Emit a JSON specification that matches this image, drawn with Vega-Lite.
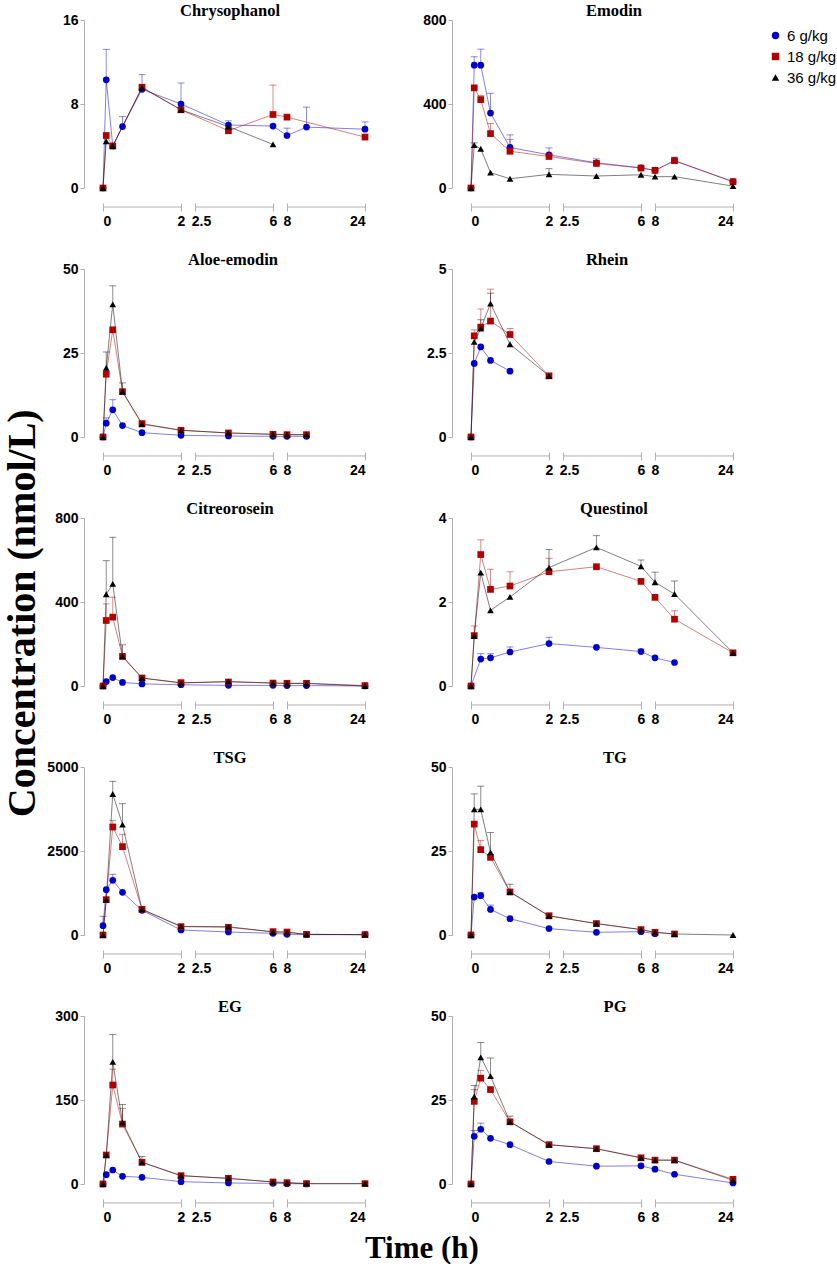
{
  "$schema": "https://vega.github.io/schema/vega-lite/v6.json",
  "background": "white",
  "padding": {"left": 2, "top": 2, "right": 0, "bottom": 0},
  "config": {
    "view": {"stroke": null},
    "font": "Liberation Sans",
    "axis": {"labelFont": "Liberation Sans", "labelFontWeight": "bold", "labelFontSize": 14, "labelColor": "#000000", "domainColor": "#b0b0b0", "tickColor": "#b0b0b0", "grid": false},
    "axisX": {"offset": 15, "domain": false, "tickSize": 8, "labelPadding": 3, "labelAngle": 0, "format": ".2~f"},
    "axisY": {"offset": 19, "tickSize": 4, "labelPadding": 2, "format": ".2~f"},
    "title": {"font": "Liberation Serif", "fontWeight": "bold", "fontSize": 16.5, "color": "#000000", "offset": -6},
    "legend": {"orient": "right", "offset": 23, "padding": 8, "labelFont": "Liberation Sans", "labelFontSize": 15, "labelFontWeight": "normal", "labelColor": "#000000", "symbolSize": 55, "symbolOpacity": 1, "symbolStrokeWidth": 0, "rowPadding": 5, "labelOffset": 4}
  },
  "datasets": {
    "pk": [
      {"c": "Chrysophanol", "d": "6 g/kg", "t": 0, "v": 0},
      {"c": "Chrysophanol", "d": "6 g/kg", "t": 0.083, "v": 10.3, "u": 13.2},
      {"c": "Chrysophanol", "d": "6 g/kg", "t": 0.25, "v": 4.0},
      {"c": "Chrysophanol", "d": "6 g/kg", "t": 0.5, "v": 5.85, "u": 6.8},
      {"c": "Chrysophanol", "d": "6 g/kg", "t": 1, "v": 9.4, "u": 10.8},
      {"c": "Chrysophanol", "d": "6 g/kg", "t": 2, "v": 8.0, "u": 10.0},
      {"c": "Chrysophanol", "d": "6 g/kg", "t": 4, "v": 6.0, "u": 6.4},
      {"c": "Chrysophanol", "d": "6 g/kg", "t": 6, "v": 5.9},
      {"c": "Chrysophanol", "d": "6 g/kg", "t": 8, "v": 5.0, "u": 5.7},
      {"c": "Chrysophanol", "d": "6 g/kg", "t": 12, "v": 5.8, "u": 7.7},
      {"c": "Chrysophanol", "d": "6 g/kg", "t": 24, "v": 5.6, "u": 6.3},
      {"c": "Chrysophanol", "d": "18 g/kg", "t": 0, "v": 0},
      {"c": "Chrysophanol", "d": "18 g/kg", "t": 0.083, "v": 5.0},
      {"c": "Chrysophanol", "d": "18 g/kg", "t": 0.25, "v": 4.0},
      {"c": "Chrysophanol", "d": "18 g/kg", "t": 1, "v": 9.6},
      {"c": "Chrysophanol", "d": "18 g/kg", "t": 2, "v": 7.45},
      {"c": "Chrysophanol", "d": "18 g/kg", "t": 4, "v": 5.45},
      {"c": "Chrysophanol", "d": "18 g/kg", "t": 6, "v": 7.0, "u": 9.8},
      {"c": "Chrysophanol", "d": "18 g/kg", "t": 8, "v": 6.75},
      {"c": "Chrysophanol", "d": "18 g/kg", "t": 24, "v": 4.85},
      {"c": "Chrysophanol", "d": "36 g/kg", "t": 0, "v": 0},
      {"c": "Chrysophanol", "d": "36 g/kg", "t": 0.083, "v": 4.45},
      {"c": "Chrysophanol", "d": "36 g/kg", "t": 0.25, "v": 4.0},
      {"c": "Chrysophanol", "d": "36 g/kg", "t": 1, "v": 9.55},
      {"c": "Chrysophanol", "d": "36 g/kg", "t": 2, "v": 7.45},
      {"c": "Chrysophanol", "d": "36 g/kg", "t": 4, "v": 5.85},
      {"c": "Chrysophanol", "d": "36 g/kg", "t": 6, "v": 4.15},

      {"c": "Emodin", "d": "6 g/kg", "t": 0, "v": 0},
      {"c": "Emodin", "d": "6 g/kg", "t": 0.083, "v": 585, "u": 625},
      {"c": "Emodin", "d": "6 g/kg", "t": 0.25, "v": 585, "u": 661},
      {"c": "Emodin", "d": "6 g/kg", "t": 0.5, "v": 357, "u": 451},
      {"c": "Emodin", "d": "6 g/kg", "t": 1, "v": 193, "u": 253},
      {"c": "Emodin", "d": "6 g/kg", "t": 2, "v": 158, "u": 191},
      {"c": "Emodin", "d": "6 g/kg", "t": 4, "v": 120, "u": 139},
      {"c": "Emodin", "d": "6 g/kg", "t": 6, "v": 96},
      {"c": "Emodin", "d": "6 g/kg", "t": 8, "v": 84},
      {"c": "Emodin", "d": "6 g/kg", "t": 12, "v": 130, "u": 147},
      {"c": "Emodin", "d": "6 g/kg", "t": 24, "v": 30},
      {"c": "Emodin", "d": "18 g/kg", "t": 0, "v": 0},
      {"c": "Emodin", "d": "18 g/kg", "t": 0.083, "v": 477},
      {"c": "Emodin", "d": "18 g/kg", "t": 0.25, "v": 421, "u": 440},
      {"c": "Emodin", "d": "18 g/kg", "t": 0.5, "v": 259, "u": 307},
      {"c": "Emodin", "d": "18 g/kg", "t": 1, "v": 175, "u": 231},
      {"c": "Emodin", "d": "18 g/kg", "t": 2, "v": 150},
      {"c": "Emodin", "d": "18 g/kg", "t": 4, "v": 117},
      {"c": "Emodin", "d": "18 g/kg", "t": 6, "v": 95},
      {"c": "Emodin", "d": "18 g/kg", "t": 8, "v": 84},
      {"c": "Emodin", "d": "18 g/kg", "t": 12, "v": 130},
      {"c": "Emodin", "d": "18 g/kg", "t": 24, "v": 30},
      {"c": "Emodin", "d": "36 g/kg", "t": 0, "v": 0},
      {"c": "Emodin", "d": "36 g/kg", "t": 0.083, "v": 204, "u": 215},
      {"c": "Emodin", "d": "36 g/kg", "t": 0.25, "v": 187},
      {"c": "Emodin", "d": "36 g/kg", "t": 0.5, "v": 73},
      {"c": "Emodin", "d": "36 g/kg", "t": 1, "v": 44},
      {"c": "Emodin", "d": "36 g/kg", "t": 2, "v": 65, "u": 92},
      {"c": "Emodin", "d": "36 g/kg", "t": 4, "v": 57},
      {"c": "Emodin", "d": "36 g/kg", "t": 6, "v": 63},
      {"c": "Emodin", "d": "36 g/kg", "t": 8, "v": 54},
      {"c": "Emodin", "d": "36 g/kg", "t": 12, "v": 54},
      {"c": "Emodin", "d": "36 g/kg", "t": 24, "v": 9},

      {"c": "Aloe-emodin", "d": "6 g/kg", "t": 0, "v": 0},
      {"c": "Aloe-emodin", "d": "6 g/kg", "t": 0.083, "v": 4.1, "u": 5.7},
      {"c": "Aloe-emodin", "d": "6 g/kg", "t": 0.25, "v": 8.1, "u": 11.1},
      {"c": "Aloe-emodin", "d": "6 g/kg", "t": 0.5, "v": 3.4},
      {"c": "Aloe-emodin", "d": "6 g/kg", "t": 1, "v": 1.3},
      {"c": "Aloe-emodin", "d": "6 g/kg", "t": 2, "v": 0.5},
      {"c": "Aloe-emodin", "d": "6 g/kg", "t": 4, "v": 0.3},
      {"c": "Aloe-emodin", "d": "6 g/kg", "t": 6, "v": 0.2},
      {"c": "Aloe-emodin", "d": "6 g/kg", "t": 8, "v": 0.2},
      {"c": "Aloe-emodin", "d": "6 g/kg", "t": 12, "v": 0.2},
      {"c": "Aloe-emodin", "d": "18 g/kg", "t": 0, "v": 0},
      {"c": "Aloe-emodin", "d": "18 g/kg", "t": 0.083, "v": 18.7},
      {"c": "Aloe-emodin", "d": "18 g/kg", "t": 0.25, "v": 31.9},
      {"c": "Aloe-emodin", "d": "18 g/kg", "t": 0.5, "v": 13.5},
      {"c": "Aloe-emodin", "d": "18 g/kg", "t": 1, "v": 4.0},
      {"c": "Aloe-emodin", "d": "18 g/kg", "t": 2, "v": 2.0},
      {"c": "Aloe-emodin", "d": "18 g/kg", "t": 4, "v": 1.2},
      {"c": "Aloe-emodin", "d": "18 g/kg", "t": 6, "v": 0.8},
      {"c": "Aloe-emodin", "d": "18 g/kg", "t": 8, "v": 0.7},
      {"c": "Aloe-emodin", "d": "18 g/kg", "t": 12, "v": 0.7},
      {"c": "Aloe-emodin", "d": "36 g/kg", "t": 0, "v": 0},
      {"c": "Aloe-emodin", "d": "36 g/kg", "t": 0.083, "v": 20.6, "u": 25.3},
      {"c": "Aloe-emodin", "d": "36 g/kg", "t": 0.25, "v": 39.5, "u": 45},
      {"c": "Aloe-emodin", "d": "36 g/kg", "t": 0.5, "v": 13.5, "u": 16.1},
      {"c": "Aloe-emodin", "d": "36 g/kg", "t": 1, "v": 3.8},
      {"c": "Aloe-emodin", "d": "36 g/kg", "t": 2, "v": 2.0},
      {"c": "Aloe-emodin", "d": "36 g/kg", "t": 4, "v": 1.2},
      {"c": "Aloe-emodin", "d": "36 g/kg", "t": 6, "v": 0.8},
      {"c": "Aloe-emodin", "d": "36 g/kg", "t": 8, "v": 0.7},
      {"c": "Aloe-emodin", "d": "36 g/kg", "t": 12, "v": 0.7},

      {"c": "Rhein", "d": "6 g/kg", "t": 0, "v": 0},
      {"c": "Rhein", "d": "6 g/kg", "t": 0.083, "v": 2.19},
      {"c": "Rhein", "d": "6 g/kg", "t": 0.25, "v": 2.68},
      {"c": "Rhein", "d": "6 g/kg", "t": 0.5, "v": 2.28},
      {"c": "Rhein", "d": "6 g/kg", "t": 1, "v": 1.96},
      {"c": "Rhein", "d": "18 g/kg", "t": 0, "v": 0},
      {"c": "Rhein", "d": "18 g/kg", "t": 0.083, "v": 3.01, "u": 3.19},
      {"c": "Rhein", "d": "18 g/kg", "t": 0.25, "v": 3.27, "u": 3.81},
      {"c": "Rhein", "d": "18 g/kg", "t": 0.5, "v": 3.45, "u": 4.4},
      {"c": "Rhein", "d": "18 g/kg", "t": 1, "v": 3.05, "u": 3.23},
      {"c": "Rhein", "d": "18 g/kg", "t": 2, "v": 1.82},
      {"c": "Rhein", "d": "36 g/kg", "t": 0, "v": 0},
      {"c": "Rhein", "d": "36 g/kg", "t": 0.083, "v": 2.83},
      {"c": "Rhein", "d": "36 g/kg", "t": 0.25, "v": 3.23, "u": 3.49},
      {"c": "Rhein", "d": "36 g/kg", "t": 0.5, "v": 3.97, "u": 4.28},
      {"c": "Rhein", "d": "36 g/kg", "t": 1, "v": 2.76},
      {"c": "Rhein", "d": "36 g/kg", "t": 2, "v": 1.82},

      {"c": "Citreorosein", "d": "6 g/kg", "t": 0, "v": 0},
      {"c": "Citreorosein", "d": "6 g/kg", "t": 0.083, "v": 21},
      {"c": "Citreorosein", "d": "6 g/kg", "t": 0.25, "v": 40},
      {"c": "Citreorosein", "d": "6 g/kg", "t": 0.5, "v": 17},
      {"c": "Citreorosein", "d": "6 g/kg", "t": 1, "v": 10},
      {"c": "Citreorosein", "d": "6 g/kg", "t": 2, "v": 6},
      {"c": "Citreorosein", "d": "6 g/kg", "t": 4, "v": 3},
      {"c": "Citreorosein", "d": "6 g/kg", "t": 6, "v": 3},
      {"c": "Citreorosein", "d": "6 g/kg", "t": 8, "v": 2},
      {"c": "Citreorosein", "d": "6 g/kg", "t": 12, "v": 2},
      {"c": "Citreorosein", "d": "6 g/kg", "t": 24, "v": 0},
      {"c": "Citreorosein", "d": "18 g/kg", "t": 0, "v": 0},
      {"c": "Citreorosein", "d": "18 g/kg", "t": 0.083, "v": 312, "u": 391},
      {"c": "Citreorosein", "d": "18 g/kg", "t": 0.25, "v": 328, "u": 423},
      {"c": "Citreorosein", "d": "18 g/kg", "t": 0.5, "v": 141},
      {"c": "Citreorosein", "d": "18 g/kg", "t": 1, "v": 38},
      {"c": "Citreorosein", "d": "18 g/kg", "t": 2, "v": 16},
      {"c": "Citreorosein", "d": "18 g/kg", "t": 4, "v": 19},
      {"c": "Citreorosein", "d": "18 g/kg", "t": 6, "v": 14},
      {"c": "Citreorosein", "d": "18 g/kg", "t": 8, "v": 13},
      {"c": "Citreorosein", "d": "18 g/kg", "t": 12, "v": 13},
      {"c": "Citreorosein", "d": "18 g/kg", "t": 24, "v": 2},
      {"c": "Citreorosein", "d": "36 g/kg", "t": 0, "v": 0},
      {"c": "Citreorosein", "d": "36 g/kg", "t": 0.083, "v": 437, "u": 597},
      {"c": "Citreorosein", "d": "36 g/kg", "t": 0.25, "v": 486, "u": 708},
      {"c": "Citreorosein", "d": "36 g/kg", "t": 0.5, "v": 141, "u": 196},
      {"c": "Citreorosein", "d": "36 g/kg", "t": 1, "v": 38},
      {"c": "Citreorosein", "d": "36 g/kg", "t": 2, "v": 14},
      {"c": "Citreorosein", "d": "36 g/kg", "t": 4, "v": 22},
      {"c": "Citreorosein", "d": "36 g/kg", "t": 6, "v": 14},
      {"c": "Citreorosein", "d": "36 g/kg", "t": 8, "v": 12},
      {"c": "Citreorosein", "d": "36 g/kg", "t": 12, "v": 12},
      {"c": "Citreorosein", "d": "36 g/kg", "t": 24, "v": 0},

      {"c": "Questinol", "d": "6 g/kg", "t": 0, "v": 0},
      {"c": "Questinol", "d": "6 g/kg", "t": 0.25, "v": 0.64, "u": 0.77},
      {"c": "Questinol", "d": "6 g/kg", "t": 0.5, "v": 0.67, "u": 0.77},
      {"c": "Questinol", "d": "6 g/kg", "t": 1, "v": 0.81, "u": 0.93},
      {"c": "Questinol", "d": "6 g/kg", "t": 2, "v": 1.01, "u": 1.16},
      {"c": "Questinol", "d": "6 g/kg", "t": 4, "v": 0.92},
      {"c": "Questinol", "d": "6 g/kg", "t": 6, "v": 0.82, "u": 0.88},
      {"c": "Questinol", "d": "6 g/kg", "t": 8, "v": 0.67},
      {"c": "Questinol", "d": "6 g/kg", "t": 12, "v": 0.56},
      {"c": "Questinol", "d": "18 g/kg", "t": 0, "v": 0},
      {"c": "Questinol", "d": "18 g/kg", "t": 0.083, "v": 1.2, "u": 1.43},
      {"c": "Questinol", "d": "18 g/kg", "t": 0.25, "v": 3.13, "u": 3.48},
      {"c": "Questinol", "d": "18 g/kg", "t": 0.5, "v": 2.3, "u": 2.78},
      {"c": "Questinol", "d": "18 g/kg", "t": 1, "v": 2.38, "u": 2.72},
      {"c": "Questinol", "d": "18 g/kg", "t": 2, "v": 2.72, "u": 3.04},
      {"c": "Questinol", "d": "18 g/kg", "t": 4, "v": 2.84},
      {"c": "Questinol", "d": "18 g/kg", "t": 6, "v": 2.49},
      {"c": "Questinol", "d": "18 g/kg", "t": 8, "v": 2.11},
      {"c": "Questinol", "d": "18 g/kg", "t": 12, "v": 1.59, "u": 1.79},
      {"c": "Questinol", "d": "18 g/kg", "t": 24, "v": 0.79},
      {"c": "Questinol", "d": "36 g/kg", "t": 0, "v": 0},
      {"c": "Questinol", "d": "36 g/kg", "t": 0.083, "v": 1.19},
      {"c": "Questinol", "d": "36 g/kg", "t": 0.25, "v": 2.7},
      {"c": "Questinol", "d": "36 g/kg", "t": 0.5, "v": 1.8},
      {"c": "Questinol", "d": "36 g/kg", "t": 1, "v": 2.12},
      {"c": "Questinol", "d": "36 g/kg", "t": 2, "v": 2.82, "u": 3.25},
      {"c": "Questinol", "d": "36 g/kg", "t": 4, "v": 3.3, "u": 3.58},
      {"c": "Questinol", "d": "36 g/kg", "t": 6, "v": 2.85, "u": 3.0},
      {"c": "Questinol", "d": "36 g/kg", "t": 8, "v": 2.47, "u": 2.71},
      {"c": "Questinol", "d": "36 g/kg", "t": 12, "v": 2.19, "u": 2.5},
      {"c": "Questinol", "d": "36 g/kg", "t": 24, "v": 0.79},

      {"c": "TSG", "d": "6 g/kg", "t": 0, "v": 278, "u": 556},
      {"c": "TSG", "d": "6 g/kg", "t": 0.083, "v": 1349},
      {"c": "TSG", "d": "6 g/kg", "t": 0.25, "v": 1627, "u": 1806},
      {"c": "TSG", "d": "6 g/kg", "t": 0.5, "v": 1270},
      {"c": "TSG", "d": "6 g/kg", "t": 1, "v": 734},
      {"c": "TSG", "d": "6 g/kg", "t": 2, "v": 149},
      {"c": "TSG", "d": "6 g/kg", "t": 4, "v": 89},
      {"c": "TSG", "d": "6 g/kg", "t": 6, "v": 50},
      {"c": "TSG", "d": "6 g/kg", "t": 8, "v": 20},
      {"c": "TSG", "d": "6 g/kg", "t": 12, "v": 10},
      {"c": "TSG", "d": "6 g/kg", "t": 24, "v": 10},
      {"c": "TSG", "d": "18 g/kg", "t": 0, "v": 0},
      {"c": "TSG", "d": "18 g/kg", "t": 0.083, "v": 1052},
      {"c": "TSG", "d": "18 g/kg", "t": 0.25, "v": 3214, "u": 3413},
      {"c": "TSG", "d": "18 g/kg", "t": 0.5, "v": 2629, "u": 2996},
      {"c": "TSG", "d": "18 g/kg", "t": 1, "v": 764},
      {"c": "TSG", "d": "18 g/kg", "t": 2, "v": 248},
      {"c": "TSG", "d": "18 g/kg", "t": 4, "v": 228},
      {"c": "TSG", "d": "18 g/kg", "t": 6, "v": 99},
      {"c": "TSG", "d": "18 g/kg", "t": 8, "v": 89},
      {"c": "TSG", "d": "18 g/kg", "t": 12, "v": 20},
      {"c": "TSG", "d": "18 g/kg", "t": 24, "v": 10},
      {"c": "TSG", "d": "36 g/kg", "t": 0, "v": 0},
      {"c": "TSG", "d": "36 g/kg", "t": 0.083, "v": 1052},
      {"c": "TSG", "d": "36 g/kg", "t": 0.25, "v": 4196, "u": 4573},
      {"c": "TSG", "d": "36 g/kg", "t": 0.5, "v": 3284, "u": 3909},
      {"c": "TSG", "d": "36 g/kg", "t": 1, "v": 764, "u": 850},
      {"c": "TSG", "d": "36 g/kg", "t": 2, "v": 258},
      {"c": "TSG", "d": "36 g/kg", "t": 4, "v": 248},
      {"c": "TSG", "d": "36 g/kg", "t": 6, "v": 89},
      {"c": "TSG", "d": "36 g/kg", "t": 8, "v": 80},
      {"c": "TSG", "d": "36 g/kg", "t": 12, "v": 20},
      {"c": "TSG", "d": "36 g/kg", "t": 24, "v": 10},

      {"c": "TG", "d": "6 g/kg", "t": 0, "v": 0},
      {"c": "TG", "d": "6 g/kg", "t": 0.083, "v": 11.3},
      {"c": "TG", "d": "6 g/kg", "t": 0.25, "v": 11.7, "u": 12.6},
      {"c": "TG", "d": "6 g/kg", "t": 0.5, "v": 7.6, "u": 8.9},
      {"c": "TG", "d": "6 g/kg", "t": 1, "v": 4.85},
      {"c": "TG", "d": "6 g/kg", "t": 2, "v": 1.9},
      {"c": "TG", "d": "6 g/kg", "t": 4, "v": 0.8},
      {"c": "TG", "d": "6 g/kg", "t": 6, "v": 1.0},
      {"c": "TG", "d": "6 g/kg", "t": 8, "v": 0.4},
      {"c": "TG", "d": "18 g/kg", "t": 0, "v": 0},
      {"c": "TG", "d": "18 g/kg", "t": 0.083, "v": 33.0},
      {"c": "TG", "d": "18 g/kg", "t": 0.25, "v": 25.4, "u": 28.1},
      {"c": "TG", "d": "18 g/kg", "t": 0.5, "v": 23.1},
      {"c": "TG", "d": "18 g/kg", "t": 1, "v": 12.8},
      {"c": "TG", "d": "18 g/kg", "t": 2, "v": 5.7},
      {"c": "TG", "d": "18 g/kg", "t": 4, "v": 3.4},
      {"c": "TG", "d": "18 g/kg", "t": 6, "v": 1.6},
      {"c": "TG", "d": "18 g/kg", "t": 8, "v": 0.8},
      {"c": "TG", "d": "18 g/kg", "t": 12, "v": 0.3},
      {"c": "TG", "d": "36 g/kg", "t": 0, "v": 0},
      {"c": "TG", "d": "36 g/kg", "t": 0.083, "v": 37.4, "u": 42},
      {"c": "TG", "d": "36 g/kg", "t": 0.25, "v": 37.4, "u": 44.3},
      {"c": "TG", "d": "36 g/kg", "t": 0.5, "v": 24.6, "u": 30.5},
      {"c": "TG", "d": "36 g/kg", "t": 1, "v": 12.8, "u": 15.1},
      {"c": "TG", "d": "36 g/kg", "t": 2, "v": 5.7, "u": 6.5},
      {"c": "TG", "d": "36 g/kg", "t": 4, "v": 3.4},
      {"c": "TG", "d": "36 g/kg", "t": 6, "v": 1.6},
      {"c": "TG", "d": "36 g/kg", "t": 8, "v": 0.8},
      {"c": "TG", "d": "36 g/kg", "t": 12, "v": 0.3},
      {"c": "TG", "d": "36 g/kg", "t": 24, "v": 0},

      {"c": "EG", "d": "6 g/kg", "t": 0, "v": 0},
      {"c": "EG", "d": "6 g/kg", "t": 0.083, "v": 16.7},
      {"c": "EG", "d": "6 g/kg", "t": 0.25, "v": 25},
      {"c": "EG", "d": "6 g/kg", "t": 0.5, "v": 13.7},
      {"c": "EG", "d": "6 g/kg", "t": 1, "v": 11.9},
      {"c": "EG", "d": "6 g/kg", "t": 2, "v": 4.2},
      {"c": "EG", "d": "6 g/kg", "t": 4, "v": 1.8},
      {"c": "EG", "d": "6 g/kg", "t": 6, "v": 1.2},
      {"c": "EG", "d": "6 g/kg", "t": 8, "v": 0.6},
      {"c": "EG", "d": "6 g/kg", "t": 12, "v": 0.2},
      {"c": "EG", "d": "18 g/kg", "t": 0, "v": 0},
      {"c": "EG", "d": "18 g/kg", "t": 0.083, "v": 51.8},
      {"c": "EG", "d": "18 g/kg", "t": 0.25, "v": 176.8, "u": 205},
      {"c": "EG", "d": "18 g/kg", "t": 0.5, "v": 107, "u": 135},
      {"c": "EG", "d": "18 g/kg", "t": 1, "v": 38.7},
      {"c": "EG", "d": "18 g/kg", "t": 2, "v": 14.9},
      {"c": "EG", "d": "18 g/kg", "t": 4, "v": 10.1},
      {"c": "EG", "d": "18 g/kg", "t": 6, "v": 3.6},
      {"c": "EG", "d": "18 g/kg", "t": 8, "v": 2.4},
      {"c": "EG", "d": "18 g/kg", "t": 12, "v": 0.6},
      {"c": "EG", "d": "18 g/kg", "t": 24, "v": 0.6},
      {"c": "EG", "d": "36 g/kg", "t": 0, "v": 0},
      {"c": "EG", "d": "36 g/kg", "t": 0.083, "v": 51.8},
      {"c": "EG", "d": "36 g/kg", "t": 0.25, "v": 218, "u": 267},
      {"c": "EG", "d": "36 g/kg", "t": 0.5, "v": 110, "u": 142},
      {"c": "EG", "d": "36 g/kg", "t": 1, "v": 38.7, "u": 49},
      {"c": "EG", "d": "36 g/kg", "t": 2, "v": 14.9},
      {"c": "EG", "d": "36 g/kg", "t": 4, "v": 10},
      {"c": "EG", "d": "36 g/kg", "t": 6, "v": 3.6},
      {"c": "EG", "d": "36 g/kg", "t": 8, "v": 2.4},
      {"c": "EG", "d": "36 g/kg", "t": 12, "v": 0.6},
      {"c": "EG", "d": "36 g/kg", "t": 24, "v": 0.6},

      {"c": "PG", "d": "6 g/kg", "t": 0, "v": 0},
      {"c": "PG", "d": "6 g/kg", "t": 0.083, "v": 14.2, "u": 15.9},
      {"c": "PG", "d": "6 g/kg", "t": 0.25, "v": 16.3, "u": 18.1},
      {"c": "PG", "d": "6 g/kg", "t": 0.5, "v": 13.6},
      {"c": "PG", "d": "6 g/kg", "t": 1, "v": 11.7},
      {"c": "PG", "d": "6 g/kg", "t": 2, "v": 6.7},
      {"c": "PG", "d": "6 g/kg", "t": 4, "v": 5.3},
      {"c": "PG", "d": "6 g/kg", "t": 6, "v": 5.4},
      {"c": "PG", "d": "6 g/kg", "t": 8, "v": 4.4},
      {"c": "PG", "d": "6 g/kg", "t": 12, "v": 2.9},
      {"c": "PG", "d": "6 g/kg", "t": 24, "v": 0.3},
      {"c": "PG", "d": "18 g/kg", "t": 0, "v": 0},
      {"c": "PG", "d": "18 g/kg", "t": 0.083, "v": 24.6, "u": 28.1},
      {"c": "PG", "d": "18 g/kg", "t": 0.25, "v": 31.5, "u": 33.8},
      {"c": "PG", "d": "18 g/kg", "t": 0.5, "v": 28.1},
      {"c": "PG", "d": "18 g/kg", "t": 1, "v": 18.5},
      {"c": "PG", "d": "18 g/kg", "t": 2, "v": 11.7},
      {"c": "PG", "d": "18 g/kg", "t": 4, "v": 10.5},
      {"c": "PG", "d": "18 g/kg", "t": 6, "v": 7.8},
      {"c": "PG", "d": "18 g/kg", "t": 8, "v": 7.1},
      {"c": "PG", "d": "18 g/kg", "t": 12, "v": 7.1},
      {"c": "PG", "d": "18 g/kg", "t": 24, "v": 1.4},
      {"c": "PG", "d": "36 g/kg", "t": 0, "v": 0},
      {"c": "PG", "d": "36 g/kg", "t": 0.083, "v": 26.0, "u": 29.3},
      {"c": "PG", "d": "36 g/kg", "t": 0.25, "v": 37.7, "u": 42.1},
      {"c": "PG", "d": "36 g/kg", "t": 0.5, "v": 32.1, "u": 37.5},
      {"c": "PG", "d": "36 g/kg", "t": 1, "v": 18.5, "u": 20.2},
      {"c": "PG", "d": "36 g/kg", "t": 2, "v": 11.7},
      {"c": "PG", "d": "36 g/kg", "t": 4, "v": 10.5},
      {"c": "PG", "d": "36 g/kg", "t": 6, "v": 7.8},
      {"c": "PG", "d": "36 g/kg", "t": 8, "v": 7.1},
      {"c": "PG", "d": "36 g/kg", "t": 12, "v": 7.1},
      {"c": "PG", "d": "36 g/kg", "t": 24, "v": 1.1}
    ]
  },
  "data": {"name": "pk"},
  "title": {"text": "Time (h)", "orient": "bottom", "anchor": "middle", "fontSize": 31, "offset": 10, "dx": -2},
  "vconcat": [
    {
      "title": {"text": "Concentration (nmol/L)", "orient": "left", "anchor": "middle", "fontSize": 40, "offset": 4},
      "columns": 2,
      "spacing": {"column": 51, "row": 23},
      "concat": [
        {
          "title": {"text": "Chrysophanol", "dx": -4},
          "width": 262, "height": 168,
          "encoding": {
            "x": {"field": "t", "type": "quantitative", "scale": {"domain": [0, 2, 2.5, 6, 8, 24], "range": [0, 78, 92, 170, 184, 262], "nice": false, "zero": false}, "axis": {"title": null, "values": [0, 2, 2.5, 6, 8, 24], "labelOffset": {"condition": {"test": "datum.value == 2.5", "value": 6}, "value": 0}}},
            "y": {"field": "v", "type": "quantitative", "scale": {"domain": [0, 16], "nice": false}, "axis": {"title": null, "values": [0, 8, 16]}}
          },
          "layer": [
            {"data": {"values": [{"a": 0, "b": 2, "y0": -1.81}, {"a": 2.5, "b": 6, "y0": -1.81}, {"a": 8, "b": 24, "y0": -1.81}]}, "mark": {"type": "rule", "stroke": "#b0b0b0", "strokeWidth": 1, "clip": false}, "encoding": {"x": {"field": "a", "type": "quantitative", "axis": {"title": null}}, "x2": {"field": "b"}, "y": {"field": "y0", "type": "quantitative", "axis": {"title": null}}}},
            {"transform": [{"filter": "datum.c == 'Chrysophanol' && isValid(datum.u)"}], "mark": {"type": "rule", "strokeWidth": 1, "opacity": 0.45}, "encoding": {"y2": {"field": "u"}, "color": {"field": "d", "type": "nominal", "scale": {"domain": ["6 g/kg", "18 g/kg", "36 g/kg"], "range": ["#0000cd", "#b00000", "#000000"]}, "legend": {"title": null}}}},
            {"transform": [{"filter": "datum.c == 'Chrysophanol' && isValid(datum.u)"}], "mark": {"type": "point", "shape": "stroke", "size": 49, "strokeWidth": 1, "filled": false, "opacity": 0.45}, "encoding": {"y": {"field": "u", "type": "quantitative", "axis": {"title": null}}, "color": {"field": "d", "type": "nominal", "legend": {"title": null}}}},
            {"transform": [{"filter": "datum.c == 'Chrysophanol'"}], "mark": {"type": "line", "strokeWidth": 1, "opacity": 0.5}, "encoding": {"color": {"field": "d", "type": "nominal", "legend": {"title": null}}}},
            {"transform": [{"filter": "datum.c == 'Chrysophanol'"}], "mark": {"type": "point", "filled": true, "opacity": 1, "size": 45}, "encoding": {
              "color": {"field": "d", "type": "nominal", "legend": {"title": null}},
              "shape": {"field": "d", "type": "nominal", "scale": {"domain": ["6 g/kg", "18 g/kg", "36 g/kg"], "range": ["circle", "square", "triangle-up"]}, "legend": {"title": null}}
            }}
          ]
        },
        {
          "title": {"text": "Emodin", "dx": 12},
          "width": 262, "height": 168,
          "encoding": {
            "x": {"field": "t", "type": "quantitative", "scale": {"domain": [0, 2, 2.5, 6, 8, 24], "range": [0, 78, 92, 170, 184, 262], "nice": false, "zero": false}, "axis": {"title": null, "values": [0, 2, 2.5, 6, 8, 24], "labelOffset": {"condition": {"test": "datum.value == 2.5", "value": 6}, "value": 0}}},
            "y": {"field": "v", "type": "quantitative", "scale": {"domain": [0, 800], "nice": false}, "axis": {"title": null, "values": [0, 400, 800]}}
          },
          "layer": [
            {"data": {"values": [{"a": 0, "b": 2, "y0": -90.5}, {"a": 2.5, "b": 6, "y0": -90.5}, {"a": 8, "b": 24, "y0": -90.5}]}, "mark": {"type": "rule", "stroke": "#b0b0b0", "strokeWidth": 1, "clip": false}, "encoding": {"x": {"field": "a", "type": "quantitative", "axis": {"title": null}}, "x2": {"field": "b"}, "y": {"field": "y0", "type": "quantitative", "axis": {"title": null}}}},
            {"transform": [{"filter": "datum.c == 'Emodin' && isValid(datum.u)"}], "mark": {"type": "rule", "strokeWidth": 1, "opacity": 0.45}, "encoding": {"y2": {"field": "u"}, "color": {"field": "d", "type": "nominal", "legend": {"title": null}}}},
            {"transform": [{"filter": "datum.c == 'Emodin' && isValid(datum.u)"}], "mark": {"type": "point", "shape": "stroke", "size": 49, "strokeWidth": 1, "filled": false, "opacity": 0.45}, "encoding": {"y": {"field": "u", "type": "quantitative", "axis": {"title": null}}, "color": {"field": "d", "type": "nominal", "legend": {"title": null}}}},
            {"transform": [{"filter": "datum.c == 'Emodin'"}], "mark": {"type": "line", "strokeWidth": 1, "opacity": 0.5}, "encoding": {"color": {"field": "d", "type": "nominal", "legend": {"title": null}}}},
            {"transform": [{"filter": "datum.c == 'Emodin'"}], "mark": {"type": "point", "filled": true, "opacity": 1, "size": 45}, "encoding": {"color": {"field": "d", "type": "nominal", "legend": {"title": null}}, "shape": {"field": "d", "type": "nominal", "legend": {"title": null}}}}
          ]
        },
        {
          "title": {"text": "Aloe-emodin", "dx": -1},
          "width": 262, "height": 168,
          "encoding": {
            "x": {"field": "t", "type": "quantitative", "scale": {"domain": [0, 2, 2.5, 6, 8, 24], "range": [0, 78, 92, 170, 184, 262], "nice": false, "zero": false}, "axis": {"title": null, "values": [0, 2, 2.5, 6, 8, 24], "labelOffset": {"condition": {"test": "datum.value == 2.5", "value": 6}, "value": 0}}},
            "y": {"field": "v", "type": "quantitative", "scale": {"domain": [0, 50], "nice": false}, "axis": {"title": null, "values": [0, 25, 50]}}
          },
          "layer": [
            {"data": {"values": [{"a": 0, "b": 2, "y0": -5.65}, {"a": 2.5, "b": 6, "y0": -5.65}, {"a": 8, "b": 24, "y0": -5.65}]}, "mark": {"type": "rule", "stroke": "#b0b0b0", "strokeWidth": 1, "clip": false}, "encoding": {"x": {"field": "a", "type": "quantitative", "axis": {"title": null}}, "x2": {"field": "b"}, "y": {"field": "y0", "type": "quantitative", "axis": {"title": null}}}},
            {"transform": [{"filter": "datum.c == 'Aloe-emodin' && isValid(datum.u)"}], "mark": {"type": "rule", "strokeWidth": 1, "opacity": 0.45}, "encoding": {"y2": {"field": "u"}, "color": {"field": "d", "type": "nominal", "legend": {"title": null}}}},
            {"transform": [{"filter": "datum.c == 'Aloe-emodin' && isValid(datum.u)"}], "mark": {"type": "point", "shape": "stroke", "size": 49, "strokeWidth": 1, "filled": false, "opacity": 0.45}, "encoding": {"y": {"field": "u", "type": "quantitative", "axis": {"title": null}}, "color": {"field": "d", "type": "nominal", "legend": {"title": null}}}},
            {"transform": [{"filter": "datum.c == 'Aloe-emodin'"}], "mark": {"type": "line", "strokeWidth": 1, "opacity": 0.5}, "encoding": {"color": {"field": "d", "type": "nominal", "legend": {"title": null}}}},
            {"transform": [{"filter": "datum.c == 'Aloe-emodin'"}], "mark": {"type": "point", "filled": true, "opacity": 1, "size": 45}, "encoding": {"color": {"field": "d", "type": "nominal", "legend": {"title": null}}, "shape": {"field": "d", "type": "nominal", "legend": {"title": null}}}}
          ]
        },
        {
          "title": {"text": "Rhein", "dx": 5},
          "width": 262, "height": 168,
          "encoding": {
            "x": {"field": "t", "type": "quantitative", "scale": {"domain": [0, 2, 2.5, 6, 8, 24], "range": [0, 78, 92, 170, 184, 262], "nice": false, "zero": false}, "axis": {"title": null, "values": [0, 2, 2.5, 6, 8, 24], "labelOffset": {"condition": {"test": "datum.value == 2.5", "value": 6}, "value": 0}}},
            "y": {"field": "v", "type": "quantitative", "scale": {"domain": [0, 5], "nice": false}, "axis": {"title": null, "values": [0, 2.5, 5]}}
          },
          "layer": [
            {"data": {"values": [{"a": 0, "b": 2, "y0": -0.565}, {"a": 2.5, "b": 6, "y0": -0.565}, {"a": 8, "b": 24, "y0": -0.565}]}, "mark": {"type": "rule", "stroke": "#b0b0b0", "strokeWidth": 1, "clip": false}, "encoding": {"x": {"field": "a", "type": "quantitative", "axis": {"title": null}}, "x2": {"field": "b"}, "y": {"field": "y0", "type": "quantitative", "axis": {"title": null}}}},
            {"transform": [{"filter": "datum.c == 'Rhein' && isValid(datum.u)"}], "mark": {"type": "rule", "strokeWidth": 1, "opacity": 0.45}, "encoding": {"y2": {"field": "u"}, "color": {"field": "d", "type": "nominal", "legend": {"title": null}}}},
            {"transform": [{"filter": "datum.c == 'Rhein' && isValid(datum.u)"}], "mark": {"type": "point", "shape": "stroke", "size": 49, "strokeWidth": 1, "filled": false, "opacity": 0.45}, "encoding": {"y": {"field": "u", "type": "quantitative", "axis": {"title": null}}, "color": {"field": "d", "type": "nominal", "legend": {"title": null}}}},
            {"transform": [{"filter": "datum.c == 'Rhein'"}], "mark": {"type": "line", "strokeWidth": 1, "opacity": 0.5}, "encoding": {"color": {"field": "d", "type": "nominal", "legend": {"title": null}}}},
            {"transform": [{"filter": "datum.c == 'Rhein'"}], "mark": {"type": "point", "filled": true, "opacity": 1, "size": 45}, "encoding": {"color": {"field": "d", "type": "nominal", "legend": {"title": null}}, "shape": {"field": "d", "type": "nominal", "legend": {"title": null}}}}
          ]
        },
        {
          "title": {"text": "Citreorosein", "dx": -4},
          "width": 262, "height": 168,
          "encoding": {
            "x": {"field": "t", "type": "quantitative", "scale": {"domain": [0, 2, 2.5, 6, 8, 24], "range": [0, 78, 92, 170, 184, 262], "nice": false, "zero": false}, "axis": {"title": null, "values": [0, 2, 2.5, 6, 8, 24], "labelOffset": {"condition": {"test": "datum.value == 2.5", "value": 6}, "value": 0}}},
            "y": {"field": "v", "type": "quantitative", "scale": {"domain": [0, 800], "nice": false}, "axis": {"title": null, "values": [0, 400, 800]}}
          },
          "layer": [
            {"data": {"values": [{"a": 0, "b": 2, "y0": -90.5}, {"a": 2.5, "b": 6, "y0": -90.5}, {"a": 8, "b": 24, "y0": -90.5}]}, "mark": {"type": "rule", "stroke": "#b0b0b0", "strokeWidth": 1, "clip": false}, "encoding": {"x": {"field": "a", "type": "quantitative", "axis": {"title": null}}, "x2": {"field": "b"}, "y": {"field": "y0", "type": "quantitative", "axis": {"title": null}}}},
            {"transform": [{"filter": "datum.c == 'Citreorosein' && isValid(datum.u)"}], "mark": {"type": "rule", "strokeWidth": 1, "opacity": 0.45}, "encoding": {"y2": {"field": "u"}, "color": {"field": "d", "type": "nominal", "legend": {"title": null}}}},
            {"transform": [{"filter": "datum.c == 'Citreorosein' && isValid(datum.u)"}], "mark": {"type": "point", "shape": "stroke", "size": 49, "strokeWidth": 1, "filled": false, "opacity": 0.45}, "encoding": {"y": {"field": "u", "type": "quantitative", "axis": {"title": null}}, "color": {"field": "d", "type": "nominal", "legend": {"title": null}}}},
            {"transform": [{"filter": "datum.c == 'Citreorosein'"}], "mark": {"type": "line", "strokeWidth": 1, "opacity": 0.5}, "encoding": {"color": {"field": "d", "type": "nominal", "legend": {"title": null}}}},
            {"transform": [{"filter": "datum.c == 'Citreorosein'"}], "mark": {"type": "point", "filled": true, "opacity": 1, "size": 45}, "encoding": {"color": {"field": "d", "type": "nominal", "legend": {"title": null}}, "shape": {"field": "d", "type": "nominal", "legend": {"title": null}}}}
          ]
        },
        {
          "title": {"text": "Questinol", "dx": 12},
          "width": 262, "height": 168,
          "encoding": {
            "x": {"field": "t", "type": "quantitative", "scale": {"domain": [0, 2, 2.5, 6, 8, 24], "range": [0, 78, 92, 170, 184, 262], "nice": false, "zero": false}, "axis": {"title": null, "values": [0, 2, 2.5, 6, 8, 24], "labelOffset": {"condition": {"test": "datum.value == 2.5", "value": 6}, "value": 0}}},
            "y": {"field": "v", "type": "quantitative", "scale": {"domain": [0, 4], "nice": false}, "axis": {"title": null, "values": [0, 2, 4]}}
          },
          "layer": [
            {"data": {"values": [{"a": 0, "b": 2, "y0": -0.452}, {"a": 2.5, "b": 6, "y0": -0.452}, {"a": 8, "b": 24, "y0": -0.452}]}, "mark": {"type": "rule", "stroke": "#b0b0b0", "strokeWidth": 1, "clip": false}, "encoding": {"x": {"field": "a", "type": "quantitative", "axis": {"title": null}}, "x2": {"field": "b"}, "y": {"field": "y0", "type": "quantitative", "axis": {"title": null}}}},
            {"transform": [{"filter": "datum.c == 'Questinol' && isValid(datum.u)"}], "mark": {"type": "rule", "strokeWidth": 1, "opacity": 0.45}, "encoding": {"y2": {"field": "u"}, "color": {"field": "d", "type": "nominal", "legend": {"title": null}}}},
            {"transform": [{"filter": "datum.c == 'Questinol' && isValid(datum.u)"}], "mark": {"type": "point", "shape": "stroke", "size": 49, "strokeWidth": 1, "filled": false, "opacity": 0.45}, "encoding": {"y": {"field": "u", "type": "quantitative", "axis": {"title": null}}, "color": {"field": "d", "type": "nominal", "legend": {"title": null}}}},
            {"transform": [{"filter": "datum.c == 'Questinol'"}], "mark": {"type": "line", "strokeWidth": 1, "opacity": 0.5}, "encoding": {"color": {"field": "d", "type": "nominal", "legend": {"title": null}}}},
            {"transform": [{"filter": "datum.c == 'Questinol'"}], "mark": {"type": "point", "filled": true, "opacity": 1, "size": 45}, "encoding": {"color": {"field": "d", "type": "nominal", "legend": {"title": null}}, "shape": {"field": "d", "type": "nominal", "legend": {"title": null}}}}
          ]
        },
        {
          "title": {"text": "TSG", "dx": -4},
          "width": 262, "height": 168,
          "encoding": {
            "x": {"field": "t", "type": "quantitative", "scale": {"domain": [0, 2, 2.5, 6, 8, 24], "range": [0, 78, 92, 170, 184, 262], "nice": false, "zero": false}, "axis": {"title": null, "values": [0, 2, 2.5, 6, 8, 24], "labelOffset": {"condition": {"test": "datum.value == 2.5", "value": 6}, "value": 0}}},
            "y": {"field": "v", "type": "quantitative", "scale": {"domain": [0, 5000], "nice": false}, "axis": {"title": null, "values": [0, 2500, 5000]}}
          },
          "layer": [
            {"data": {"values": [{"a": 0, "b": 2, "y0": -565}, {"a": 2.5, "b": 6, "y0": -565}, {"a": 8, "b": 24, "y0": -565}]}, "mark": {"type": "rule", "stroke": "#b0b0b0", "strokeWidth": 1, "clip": false}, "encoding": {"x": {"field": "a", "type": "quantitative", "axis": {"title": null}}, "x2": {"field": "b"}, "y": {"field": "y0", "type": "quantitative", "axis": {"title": null}}}},
            {"transform": [{"filter": "datum.c == 'TSG' && isValid(datum.u)"}], "mark": {"type": "rule", "strokeWidth": 1, "opacity": 0.45}, "encoding": {"y2": {"field": "u"}, "color": {"field": "d", "type": "nominal", "legend": {"title": null}}}},
            {"transform": [{"filter": "datum.c == 'TSG' && isValid(datum.u)"}], "mark": {"type": "point", "shape": "stroke", "size": 49, "strokeWidth": 1, "filled": false, "opacity": 0.45}, "encoding": {"y": {"field": "u", "type": "quantitative", "axis": {"title": null}}, "color": {"field": "d", "type": "nominal", "legend": {"title": null}}}},
            {"transform": [{"filter": "datum.c == 'TSG'"}], "mark": {"type": "line", "strokeWidth": 1, "opacity": 0.5}, "encoding": {"color": {"field": "d", "type": "nominal", "legend": {"title": null}}}},
            {"transform": [{"filter": "datum.c == 'TSG'"}], "mark": {"type": "point", "filled": true, "opacity": 1, "size": 45}, "encoding": {"color": {"field": "d", "type": "nominal", "legend": {"title": null}}, "shape": {"field": "d", "type": "nominal", "legend": {"title": null}}}}
          ]
        },
        {
          "title": {"text": "TG", "dx": 13},
          "width": 262, "height": 168,
          "encoding": {
            "x": {"field": "t", "type": "quantitative", "scale": {"domain": [0, 2, 2.5, 6, 8, 24], "range": [0, 78, 92, 170, 184, 262], "nice": false, "zero": false}, "axis": {"title": null, "values": [0, 2, 2.5, 6, 8, 24], "labelOffset": {"condition": {"test": "datum.value == 2.5", "value": 6}, "value": 0}}},
            "y": {"field": "v", "type": "quantitative", "scale": {"domain": [0, 50], "nice": false}, "axis": {"title": null, "values": [0, 25, 50]}}
          },
          "layer": [
            {"data": {"values": [{"a": 0, "b": 2, "y0": -5.65}, {"a": 2.5, "b": 6, "y0": -5.65}, {"a": 8, "b": 24, "y0": -5.65}]}, "mark": {"type": "rule", "stroke": "#b0b0b0", "strokeWidth": 1, "clip": false}, "encoding": {"x": {"field": "a", "type": "quantitative", "axis": {"title": null}}, "x2": {"field": "b"}, "y": {"field": "y0", "type": "quantitative", "axis": {"title": null}}}},
            {"transform": [{"filter": "datum.c == 'TG' && isValid(datum.u)"}], "mark": {"type": "rule", "strokeWidth": 1, "opacity": 0.45}, "encoding": {"y2": {"field": "u"}, "color": {"field": "d", "type": "nominal", "legend": {"title": null}}}},
            {"transform": [{"filter": "datum.c == 'TG' && isValid(datum.u)"}], "mark": {"type": "point", "shape": "stroke", "size": 49, "strokeWidth": 1, "filled": false, "opacity": 0.45}, "encoding": {"y": {"field": "u", "type": "quantitative", "axis": {"title": null}}, "color": {"field": "d", "type": "nominal", "legend": {"title": null}}}},
            {"transform": [{"filter": "datum.c == 'TG'"}], "mark": {"type": "line", "strokeWidth": 1, "opacity": 0.5}, "encoding": {"color": {"field": "d", "type": "nominal", "legend": {"title": null}}}},
            {"transform": [{"filter": "datum.c == 'TG'"}], "mark": {"type": "point", "filled": true, "opacity": 1, "size": 45}, "encoding": {"color": {"field": "d", "type": "nominal", "legend": {"title": null}}, "shape": {"field": "d", "type": "nominal", "legend": {"title": null}}}}
          ]
        },
        {
          "title": {"text": "EG", "dx": -4},
          "width": 262, "height": 168,
          "encoding": {
            "x": {"field": "t", "type": "quantitative", "scale": {"domain": [0, 2, 2.5, 6, 8, 24], "range": [0, 78, 92, 170, 184, 262], "nice": false, "zero": false}, "axis": {"title": null, "values": [0, 2, 2.5, 6, 8, 24], "labelOffset": {"condition": {"test": "datum.value == 2.5", "value": 6}, "value": 0}}},
            "y": {"field": "v", "type": "quantitative", "scale": {"domain": [0, 300], "nice": false}, "axis": {"title": null, "values": [0, 150, 300]}}
          },
          "layer": [
            {"data": {"values": [{"a": 0, "b": 2, "y0": -33.9}, {"a": 2.5, "b": 6, "y0": -33.9}, {"a": 8, "b": 24, "y0": -33.9}]}, "mark": {"type": "rule", "stroke": "#b0b0b0", "strokeWidth": 1, "clip": false}, "encoding": {"x": {"field": "a", "type": "quantitative", "axis": {"title": null}}, "x2": {"field": "b"}, "y": {"field": "y0", "type": "quantitative", "axis": {"title": null}}}},
            {"transform": [{"filter": "datum.c == 'EG' && isValid(datum.u)"}], "mark": {"type": "rule", "strokeWidth": 1, "opacity": 0.45}, "encoding": {"y2": {"field": "u"}, "color": {"field": "d", "type": "nominal", "legend": {"title": null}}}},
            {"transform": [{"filter": "datum.c == 'EG' && isValid(datum.u)"}], "mark": {"type": "point", "shape": "stroke", "size": 49, "strokeWidth": 1, "filled": false, "opacity": 0.45}, "encoding": {"y": {"field": "u", "type": "quantitative", "axis": {"title": null}}, "color": {"field": "d", "type": "nominal", "legend": {"title": null}}}},
            {"transform": [{"filter": "datum.c == 'EG'"}], "mark": {"type": "line", "strokeWidth": 1, "opacity": 0.5}, "encoding": {"color": {"field": "d", "type": "nominal", "legend": {"title": null}}}},
            {"transform": [{"filter": "datum.c == 'EG'"}], "mark": {"type": "point", "filled": true, "opacity": 1, "size": 45}, "encoding": {"color": {"field": "d", "type": "nominal", "legend": {"title": null}}, "shape": {"field": "d", "type": "nominal", "legend": {"title": null}}}}
          ]
        },
        {
          "title": {"text": "PG", "dx": 13},
          "width": 262, "height": 168,
          "encoding": {
            "x": {"field": "t", "type": "quantitative", "scale": {"domain": [0, 2, 2.5, 6, 8, 24], "range": [0, 78, 92, 170, 184, 262], "nice": false, "zero": false}, "axis": {"title": null, "values": [0, 2, 2.5, 6, 8, 24], "labelOffset": {"condition": {"test": "datum.value == 2.5", "value": 6}, "value": 0}}},
            "y": {"field": "v", "type": "quantitative", "scale": {"domain": [0, 50], "nice": false}, "axis": {"title": null, "values": [0, 25, 50]}}
          },
          "layer": [
            {"data": {"values": [{"a": 0, "b": 2, "y0": -5.65}, {"a": 2.5, "b": 6, "y0": -5.65}, {"a": 8, "b": 24, "y0": -5.65}]}, "mark": {"type": "rule", "stroke": "#b0b0b0", "strokeWidth": 1, "clip": false}, "encoding": {"x": {"field": "a", "type": "quantitative", "axis": {"title": null}}, "x2": {"field": "b"}, "y": {"field": "y0", "type": "quantitative", "axis": {"title": null}}}},
            {"transform": [{"filter": "datum.c == 'PG' && isValid(datum.u)"}], "mark": {"type": "rule", "strokeWidth": 1, "opacity": 0.45}, "encoding": {"y2": {"field": "u"}, "color": {"field": "d", "type": "nominal", "legend": {"title": null}}}},
            {"transform": [{"filter": "datum.c == 'PG' && isValid(datum.u)"}], "mark": {"type": "point", "shape": "stroke", "size": 49, "strokeWidth": 1, "filled": false, "opacity": 0.45}, "encoding": {"y": {"field": "u", "type": "quantitative", "axis": {"title": null}}, "color": {"field": "d", "type": "nominal", "legend": {"title": null}}}},
            {"transform": [{"filter": "datum.c == 'PG'"}], "mark": {"type": "line", "strokeWidth": 1, "opacity": 0.5}, "encoding": {"color": {"field": "d", "type": "nominal", "legend": {"title": null}}}},
            {"transform": [{"filter": "datum.c == 'PG'"}], "mark": {"type": "point", "filled": true, "opacity": 1, "size": 45}, "encoding": {"color": {"field": "d", "type": "nominal", "legend": {"title": null}}, "shape": {"field": "d", "type": "nominal", "legend": {"title": null}}}}
          ]
        }
      ]
    }
  ]
}
